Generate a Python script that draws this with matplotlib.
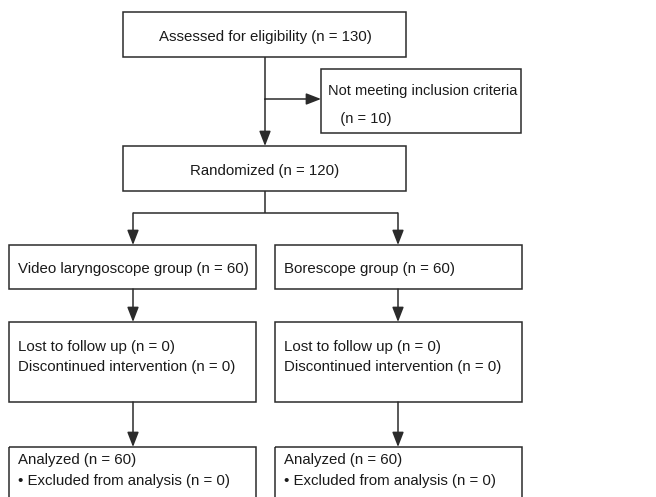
import matplotlib.pyplot as plt
from matplotlib.patches import Rectangle

# box texts (one entry per box)
top_label = "Assessed for eligibility (n = 130)"
excluded_label = "Not meeting inclusion criteria\n   (n = 10)"
random_label = "Randomized (n = 120)"
group_labels = ["Video laryngoscope group (n = 60)", "Borescope group (n = 60)"]
followup_labels = ["Lost to follow up (n = 0)\nDiscontinued intervention (n = 0)"] * 2
analysis_labels = ["Analyzed (n = 60)\n\u2022 Excluded from analysis (n = 0)"] * 2

plt.rcParams["font.family"] = ["Liberation Sans", "DejaVu Sans"]
EDGE = "#2b2b2b"
TXT = "#1a1a1a"
FS = 10.8

fig = plt.figure(figsize=(6.56, 4.97), dpi=100)
ax = fig.add_axes([0, 0, 1, 1])
ax.set_xlim(0, 656)
ax.set_ylim(497, 0)
ax.axis("off")


def box(x0, y0, x1, y1):
    ax.add_patch(Rectangle((x0, y0), x1 - x0, y1 - y0, fill=False,
                           edgecolor=EDGE, linewidth=1.1))


def line(x0, y0, x1, y1):
    ax.plot([x0, x1], [y0, y1], color=EDGE, linewidth=1.1, solid_capstyle="butt")


def arrow(x0, y0, x1, y1):
    ax.annotate("", xy=(x1, y1), xytext=(x0, y0),
                arrowprops=dict(arrowstyle="-|>,head_length=0.9,head_width=0.35",
                                color=EDGE, lw=1.1, shrinkA=0, shrinkB=0))


# top box
box(123, 12, 406, 57)
ax.text(265, 37, top_label, ha="center", va="center", fontsize=FS, color=TXT)
line(265, 57, 265, 100)
arrow(265, 99, 321, 99)
arrow(265, 99, 265, 146)

# excluded box
box(321, 69, 521, 133)
ax.text(328, 105, excluded_label, ha="left", va="center", fontsize=10.5,
        linespacing=2.2, color=TXT)

# randomized box
box(123, 146, 406, 191)
ax.text(265, 171, random_label, ha="center", va="center", fontsize=FS, color=TXT)
line(265, 191, 265, 213)
line(133, 213, 398, 213)

lefts = [9, 275]
rights = [256, 522]
centers = [133, 398]
for i in range(2):
    arrow(centers[i], 213, centers[i], 245)
    box(lefts[i], 245, rights[i], 289)
    ax.text(lefts[i] + 9, 269.5, group_labels[i], ha="left", va="center",
            fontsize=FS, color=TXT)
    arrow(centers[i], 289, centers[i], 322)
    box(lefts[i], 322, rights[i], 402)
    ax.text(lefts[i] + 9, 357, followup_labels[i], ha="left", va="center",
            fontsize=FS, linespacing=1.6, color=TXT)
    arrow(centers[i], 402, centers[i], 447)
    box(lefts[i], 447, rights[i], 500)
    ax.text(lefts[i] + 9, 470.5, analysis_labels[i], ha="left", va="center",
            fontsize=FS, linespacing=1.6, color=TXT)

fig.savefig("out.png", dpi=100)
